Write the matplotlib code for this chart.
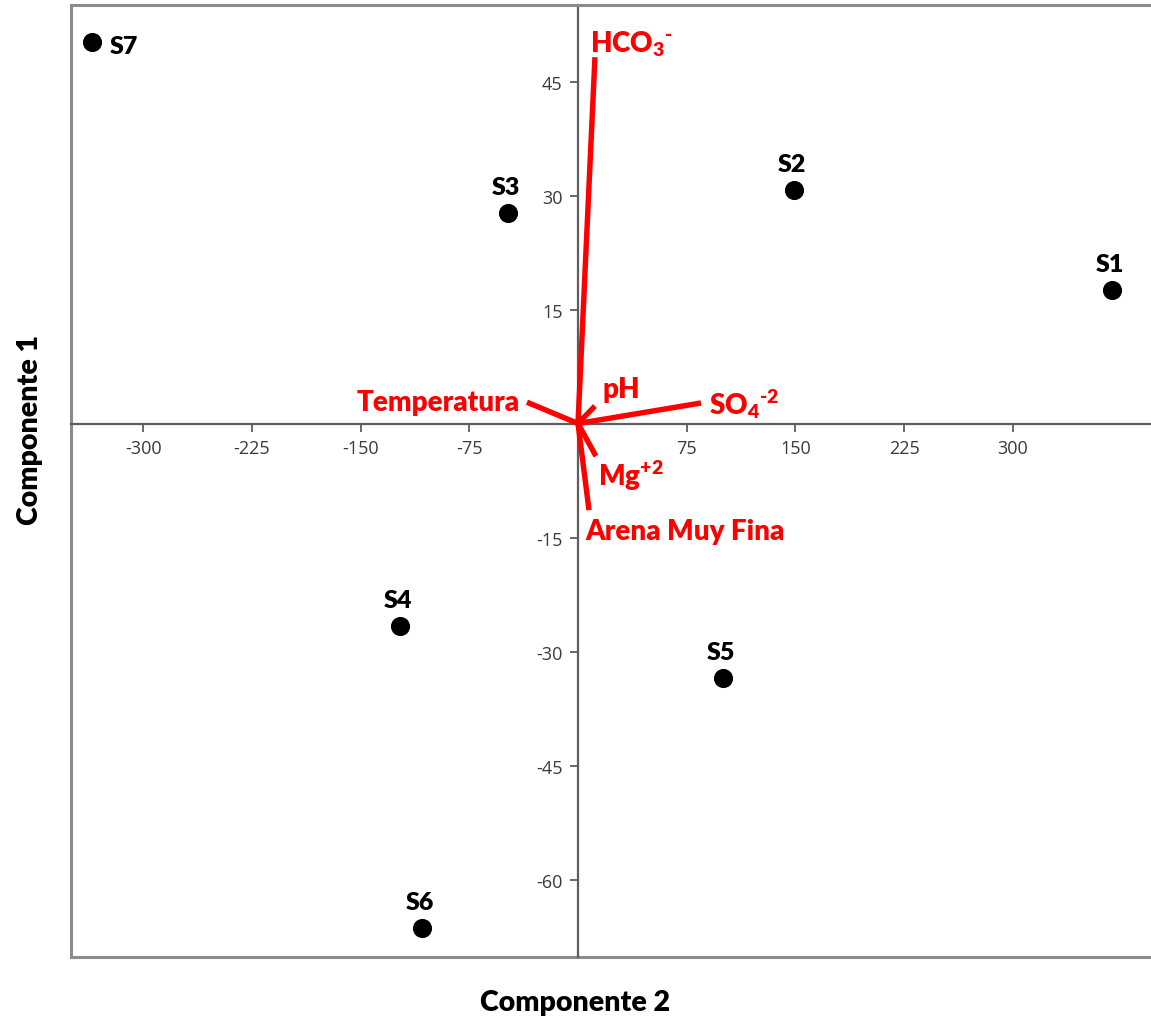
import matplotlib
matplotlib.use("Agg")
import matplotlib.pyplot as plt
import numpy as np

# ---------------- data ----------------
sample_names = ["S1", "S2", "S3", "S4", "S5", "S6", "S7"]
comp2_scores = [368.7, 149.3, -48.5, -122.8, 99.9, -107.9, -335.4]
comp1_scores = [17.6, 30.7, 27.7, -26.7, -33.5, -66.4, 50.2]

variable_names = ["HCO$_3$$^{\\text{-}}$", "Temperatura", "pH", "SO$_4$$^{\\text{-2}}$",
                  "Mg$^{+2}$", "Arena Muy Fina"]
var_comp2 = [11.7, -35.2, 11.7, 84.9, 12.4, 7.6]
var_comp1 = [48.2, 2.8, 2.3, 2.7, -4.3, -11.4]

xticks = [-300, -225, -150, -75, 75, 150, 225, 300]
yticks = [-60, -45, -30, -15, 15, 30, 45]

# ---------------- style ----------------
plt.rcParams['axes.unicode_minus'] = False
plt.rcParams['mathtext.fontset'] = 'custom'
plt.rcParams['mathtext.rm'] = 'Lato:heavy'
plt.rcParams['mathtext.it'] = 'Lato:heavy'
plt.rcParams['mathtext.bf'] = 'Lato:heavy'
bold_family = ['Lato', 'DejaVu Sans']
tick_family = ['Open Sans', 'DejaVu Sans']
label_weight = 'heavy'

W, H = 1151, 1020
fig = plt.figure(figsize=(W / 100, H / 100), dpi=100)

# axes frame in pixels
left_px, right_px, top_px, bottom_px = 71, 1200, 6, 958
ax = fig.add_axes([left_px / W, 1 - bottom_px / H,
                   (right_px - left_px) / W, (bottom_px - top_px) / H])

x0_px, sx = 578.0, 1.449
y0_px, sy = 424.5, 7.6
ax.set_xlim((left_px - x0_px) / sx, (right_px - x0_px) / sx)
ax.set_ylim((y0_px - bottom_px) / sy, (y0_px - top_px) / sy)

frame_col = '#8c8c8c'
axis_col = '#5e5e5e'

ax.spines['left'].set_position(('data', 0))
ax.spines['bottom'].set_position(('data', 0))
ax.spines['right'].set_visible(False)
for s in ['left', 'bottom']:
    ax.spines[s].set_color(axis_col)
    ax.spines[s].set_linewidth(1.6)
ax.spines['top'].set_color(frame_col)
ax.spines['top'].set_linewidth(2.2)

# outer frame left and bottom
ax.plot([0, 0], [0, 1], transform=ax.transAxes, color=frame_col, lw=2.2,
        clip_on=False, solid_capstyle='projecting', zorder=1)
ax.plot([0, 1], [0, 0], transform=ax.transAxes, color=frame_col, lw=2.2,
        clip_on=False, solid_capstyle='projecting', zorder=1)

ax.set_xticks(xticks)
ax.set_yticks(yticks)
ax.set_xticklabels([str(v) for v in xticks])
ax.set_yticklabels([str(v) for v in yticks])
ax.tick_params(axis='both', direction='out', length=6, width=1.3, color=axis_col,
               labelcolor='#3a3a3a', labelsize=13, pad=5)
for lab in ax.get_xticklabels() + ax.get_yticklabels():
    lab.set_family(tick_family)

# ---------------- vectors ----------------
red = '#ff0000'
for vx, vy in zip(var_comp2, var_comp1):
    ax.plot([0, vx], [0, vy], color=red, lw=3.9, solid_capstyle='butt', zorder=3)

# label offsets (pixels) relative to vector ends: (dx, dy, ha)
var_label_layout = [(-5, 14, 'left'), (-7, 0, 'right'), (8, 17, 'left'),
                    (8, 0, 'left'), (2, -19, 'left'), (-4, -21, 'left')]
for name, vx, vy, (dx, dy, ha) in zip(variable_names, var_comp2, var_comp1, var_label_layout):
    ax.annotate(name, (vx, vy), xytext=(dx, dy), textcoords='offset pixels',
                ha=ha, va='center', color=red, fontsize=20, fontweight=label_weight,
                family=bold_family, zorder=4)

# ---------------- samples ----------------
ax.scatter(comp2_scores, comp1_scores, s=190, color='black', zorder=5, linewidths=0)
for name, x, y in zip(sample_names, comp2_scores, comp1_scores):
    if name == "S7":
        ax.annotate(name, (x, y), xytext=(18, -4), textcoords='offset pixels',
                    ha='left', va='center', fontsize=18, fontweight=label_weight,
                    family=bold_family, color='black')
    else:
        ax.annotate(name, (x, y), xytext=(-2, 26), textcoords='offset pixels',
                    ha='center', va='center', fontsize=18, fontweight=label_weight,
                    family=bold_family, color='black')

# ---------------- axis titles ----------------
fig.text(575 / W, 1 - 1003 / H, "Componente 2", ha='center', va='center',
         fontsize=20.5, fontweight=label_weight, family=bold_family)
fig.text(30 / W, 1 - 430 / H, "Componente 1", ha='center', va='center',
         rotation=90, fontsize=20.5, fontweight=label_weight, family=bold_family)

fig.savefig("out.png", dpi=100)
